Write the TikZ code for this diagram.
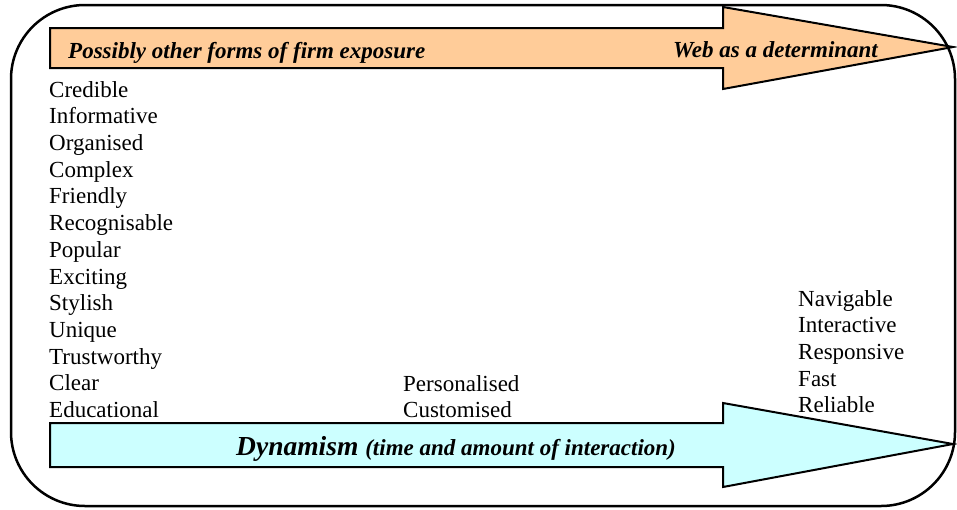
\documentclass[tikz,border=0pt]{standalone}
\usepackage{fontspec}
\setmainfont{Liberation Serif}
\usetikzlibrary{positioning}

\definecolor{peach}{HTML}{FFCC99}
\definecolor{paleblue}{HTML}{CCFFFF}

\begin{document}
\begin{tikzpicture}[
    x=1pt, y=-1pt,
    word/.style={anchor=base west, inner sep=0pt, font=\fontsize{23}{27}\selectfont},
    banner/.style={draw=black, line width=2pt, line join=miter},
    tag/.style={anchor=base west, inner sep=0pt, font=\fontsize{23}{27}\selectfont\bfseries\itshape}
]
\useasboundingbox (0,0) rectangle (957,509);

% outer frame
\draw[line width=2.5pt, rounded corners=74pt] (11,5) rectangle (955,506);

% upper arrow
\draw[banner, fill=peach] (50,28) -- (723,28) -- (723,7) -- (953,47)
    -- (723,89) -- (723,68) -- (50,68) -- cycle;
\node[tag] (exposure) at (68,58) {Possibly other forms of firm exposure};
\node[tag] (web) at (673,57) {Web as a determinant};

% lower arrow
\draw[banner, fill=paleblue] (50,423) -- (723,423) -- (723,403) -- (953,444)
    -- (723,487) -- (723,467) -- (50,467) -- cycle;
\node[tag] (dynamism) at (236,455)
    {\fontsize{27.5}{30}\selectfont Dynamism
     \fontsize{23}{27}\selectfont(time and amount of interaction)};

% attribute lists
\foreach \w [count=\i] in {Credible, Informative, Organised, Complex, Friendly,
    Recognisable, Popular, Exciting, Stylish, Unique, Trustworthy, Clear, Educational}
  \node[word] (left\i) at (49,{97+26.72*(\i-1)}) {\w};

\foreach \w [count=\i] in {Personalised, Customised}
  \node[word] (mid\i) at (403,{391+26.72*(\i-1)}) {\w};

\foreach \w [count=\i] in {Navigable, Interactive, Responsive, Fast, Reliable}
  \node[word] (right\i) at (798,{306+26.72*(\i-1)}) {\w};

\end{tikzpicture}
\end{document}
